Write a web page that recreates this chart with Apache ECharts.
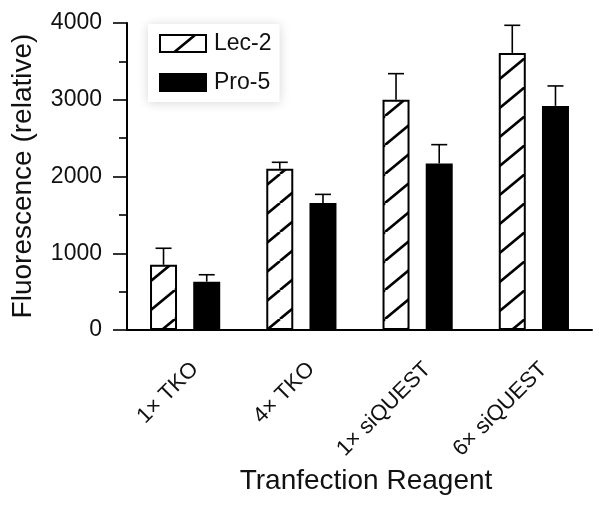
<!DOCTYPE html>
<html>
<head>
<meta charset="utf-8">
<script src="https://cdn.jsdelivr.net/npm/echarts@6/dist/echarts.min.js"></script>
<style>
html,body{margin:0;padding:0;background:#fff;}
#chart{width:601px;height:505px;}
</style>
</head>
<body>
<div id="chart"></div>
<script>
const categories = ['1× TKO', '4× TKO', '1× siQUEST', '6× siQUEST'];
const lec2Values = [850, 2100, 3000, 3610];
const lec2Errors = [215, 85, 340, 360];
const pro5Values = [630, 1655, 2170, 2920];
const pro5Errors = [90, 112, 245, 260];
const yTicks = [0, 1000, 2000, 3000, 4000];

const FONT = '"Liberation Sans", Arial, Helvetica, sans-serif';
const INK = '#111';
const BAR_W = 27;
const GAP_RATIO = 0.6;

// diagonal hatch tile
function hatchCanvas() {
  const w = 35, h = 29;
  const c = document.createElement('canvas');
  c.width = w; c.height = h;
  const ctx = c.getContext('2d');
  ctx.fillStyle = '#fff';
  ctx.fillRect(0, 0, w, h);
  ctx.strokeStyle = '#000';
  ctx.lineWidth = 2.6;
  [-w, 0, w].forEach(function (dx) {
    ctx.beginPath();
    ctx.moveTo(dx, h);
    ctx.lineTo(dx + w, 0);
    ctx.stroke();
  });
  return c;
}
const hatch = { image: hatchCanvas(), repeat: 'repeat' };

function errorSeries(values, errors, sign) {
  return {
    type: 'custom',
    z: 5,
    silent: true,
    clip: false,
    data: values.map(function (v, i) { return [i, v, v + errors[i]]; }),
    renderItem: function (params, api) {
      const off = sign * BAR_W * (1 + GAP_RATIO) / 2;
      const p0 = api.coord([api.value(0), api.value(1)]);
      const p1 = api.coord([api.value(0), api.value(2)]);
      const x = p0[0] + off;
      const cap = 8;
      return {
        type: 'group',
        children: [
          { type: 'line', shape: { x1: x, y1: p0[1], x2: x, y2: p1[1] }, style: { stroke: '#000', lineWidth: 1.6 } },
          { type: 'line', shape: { x1: x - cap, y1: p1[1], x2: x + cap, y2: p1[1] }, style: { stroke: '#000', lineWidth: 1.6 } }
        ]
      };
    }
  };
}

const chart = echarts.init(document.getElementById('chart'), null, { renderer: 'canvas' });
chart.setOption({
  animation: false,
  backgroundColor: '#fff',
  textStyle: { fontFamily: FONT, color: INK },
  grid: { left: 127, top: 23, right: 9, bottom: 175, containLabel: false },
  legend: {
    data: ['Lec-2', 'Pro-5'],
    orient: 'vertical',
    left: 148,
    top: 24,
    padding: [8, 8, 8, 11],
    itemGap: 16,
    itemWidth: 46,
    itemHeight: 17,
    icon: 'rect',
    backgroundColor: '#fff',
    shadowBlur: 10,
    shadowColor: 'rgba(0,0,0,0.16)',
    shadowOffsetX: 0,
    shadowOffsetY: 1,
    textStyle: { fontFamily: FONT, fontSize: 23, color: INK, padding: [0, 0, 0, 3] }
  },
  xAxis: {
    type: 'category',
    data: categories,
    boundaryGap: true,
    axisLine: { lineStyle: { color: '#000', width: 2 } },
    axisTick: { alignWithLabel: true, length: 16, lineStyle: { color: '#000', width: 1.6 } },
    axisLabel: {
      interval: 0,
      rotate: 45,
      margin: 26,
      verticalAlign: 'top',
      padding: [3, 0, 0, 0],
      fontFamily: FONT,
      fontSize: 22,
      color: INK
    }
  },
  yAxis: {
    type: 'value',
    min: yTicks[0],
    max: yTicks[yTicks.length - 1],
    interval: 1000,
    splitLine: { show: false },
    axisLine: { show: true, lineStyle: { color: '#000', width: 2 } },
    axisTick: { show: true, length: 14, lineStyle: { color: '#000', width: 1.6 } },
    minorTick: { show: true, splitNumber: 2, length: 8, lineStyle: { color: '#000', width: 1.6 } },
    axisLabel: {
      fontFamily: FONT, fontSize: 23, color: INK, margin: 25,
      formatter: function (v) { return String(v); }
    }
  },
  series: [
    {
      name: 'Lec-2',
      type: 'bar',
      data: lec2Values,
      barWidth: BAR_W,
      barGap: (GAP_RATIO * 100) + '%',
      itemStyle: { color: hatch, borderColor: '#000', borderWidth: 2 }
    },
    {
      name: 'Pro-5',
      type: 'bar',
      data: pro5Values,
      barWidth: BAR_W,
      itemStyle: { color: '#000', borderColor: '#000', borderWidth: 2 }
    },
    errorSeries(lec2Values, lec2Errors, -1),
    errorSeries(pro5Values, pro5Errors, 1)
  ],
  graphic: [
    {
      type: 'text',
      x: 23, y: 176,
      rotation: Math.PI / 2,
      style: {
        text: 'Fluorescence (relative)',
        fontFamily: FONT, fontSize: 28, fill: INK,
        align: 'center', verticalAlign: 'middle'
      }
    },
    {
      type: 'text',
      x: 366, y: 481,
      style: {
        text: 'Tranfection Reagent',
        fontFamily: FONT, fontSize: 28, fill: INK,
        align: 'center', verticalAlign: 'middle'
      }
    }
  ]
});
</script>
</body>
</html>
